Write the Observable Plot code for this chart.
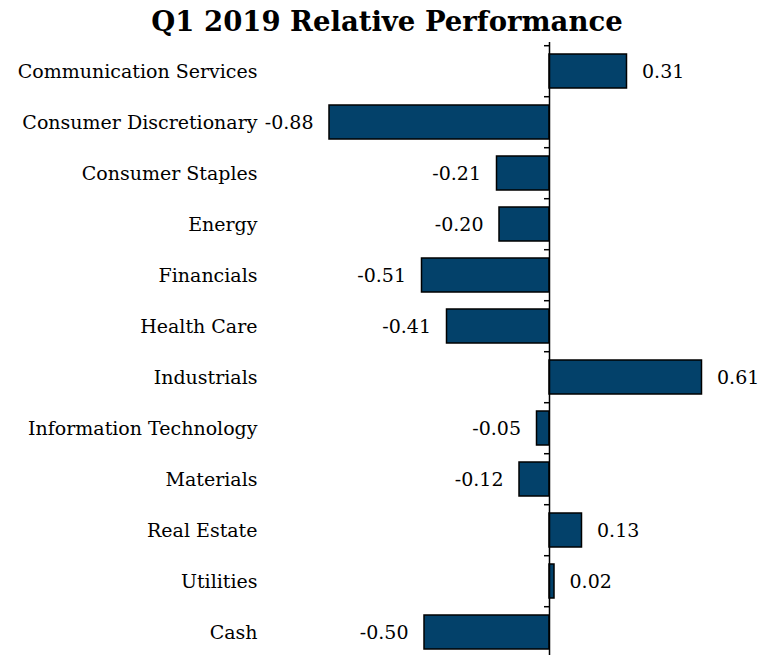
<!DOCTYPE html>
<html>
<head>
<meta charset="utf-8">
<script src="https://cdn.jsdelivr.net/npm/d3@7"></script>
<script src="https://cdn.jsdelivr.net/npm/@observablehq/plot@0.6"></script>
<style>
  html, body { margin: 0; padding: 0; background: #fff; }
  #title { font-family: "DejaVu Serif", serif; font-weight: bold; font-size: 27.5px; text-align: center; width: 766px; height: 40px; line-height: 43px; padding-left: 8px; box-sizing: border-box; color: #000; white-space: nowrap; }
</style>
</head>
<body>
<div id="title">Q1 2019 Relative Performance</div>
<div id="chart"></div>
<script>
const sectors = ["Communication Services", "Consumer Discretionary", "Consumer Staples", "Energy", "Financials", "Health Care", "Industrials", "Information Technology", "Materials", "Real Estate", "Utilities", "Cash"];
const values = [0.31, -0.88, -0.21, -0.20, -0.51, -0.41, 0.61, -0.05, -0.12, 0.13, 0.02, -0.50];

const data = sectors.map((s, i) => ({sector: s, value: values[i]}));
const H = 621, MT = 2;
const step = (H - MT) / sectors.length;
const fmt = v => v.toFixed(2);

const chart = Plot.plot({
  width: 766,
  height: H,
  marginTop: MT,
  marginBottom: 0,
  marginLeft: 268,
  marginRight: 20,
  style: {fontFamily: "DejaVu Serif, serif", fontSize: "19px", color: "#000", background: "#fff"},
  x: {domain: [-1.124, 0.788], axis: null},
  y: {domain: sectors, paddingInner: 0.34, paddingOuter: 0.17, label: null},
  marks: [
    Plot.axisY({tickSize: 0, tickPadding: 11, label: null, fontSize: 19}),
    Plot.barX(data, {x: "value", y: "sector", fill: "#03416A", stroke: "#000", strokeWidth: 1.5}),
    Plot.ruleX([0], {stroke: "#000", strokeWidth: 1.5}),
    Plot.ruleY(sectors, {y: d => d, x1: -0.02, x2: 0, dy: -step / 2, stroke: "#000", strokeWidth: 1.5}),
    Plot.ruleY([sectors[sectors.length - 1]], {y: d => d, x1: -0.02, x2: 0, dy: step / 2, stroke: "#000", strokeWidth: 1.5}),
    Plot.text(data.filter(d => d.value >= 0), {x: "value", y: "sector", text: d => fmt(d.value), textAnchor: "start", dx: 15, fontSize: 19}),
    Plot.text(data.filter(d => d.value < 0), {x: "value", y: "sector", text: d => fmt(d.value), textAnchor: "end", dx: -16, fontSize: 19})
  ]
});
document.getElementById("chart").appendChild(chart);
</script>
</body>
</html>
